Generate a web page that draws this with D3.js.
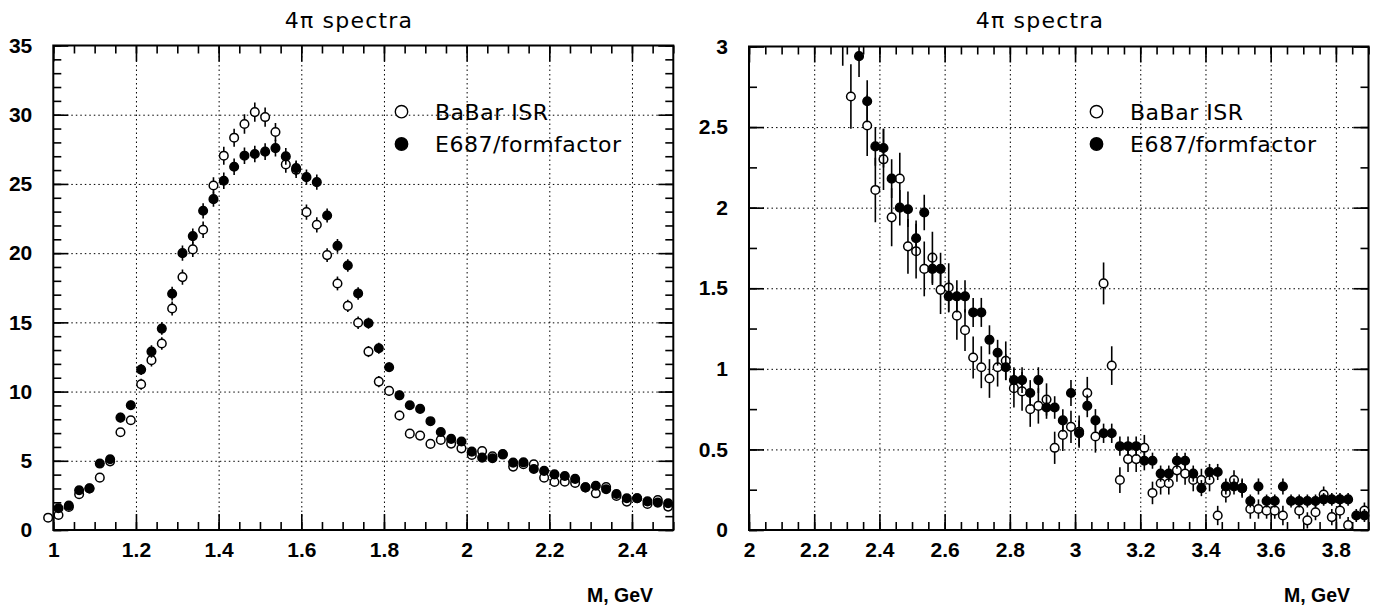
<!DOCTYPE html>
<html>
<head>
<meta charset="utf-8">
<script src="https://cdn.jsdelivr.net/npm/d3@7"></script>
<style>
  body { margin: 0; background: #fff; }
  .tick text { font-family: "Liberation Sans", Arial, sans-serif; font-weight: bold; font-size: 21px; fill: #000; }
  .title, .legend-text { font-family: "DejaVu Sans", sans-serif; fill: #000; }
  .x-label { font-family: "Liberation Sans", Arial, sans-serif; font-weight: bold; font-size: 19.5px; }
</style>
</head>
<body>
<svg id="chart" width="1381" height="608"></svg>
<script>
/* 4pi spectra: BaBar ISR vs E687/formfactor, two panels */

const titleText = "4\u03c0 spectra";
const xLabelText = "M, GeV";
const seriesNames = ["BaBar ISR", "E687/formfactor"];

// left panel (1.0 - 2.5 GeV)
const leftXTicks = [1, 1.2, 1.4, 1.6, 1.8, 2, 2.2, 2.4];
const leftYTicks = [0, 5, 10, 15, 20, 25, 30, 35];

const leftMass = [
  0.9875, 1.0125, 1.0375, 1.0625, 1.0875, 1.1125, 1.1375, 1.1625, 1.1875, 1.2125,
  1.2375, 1.2625, 1.2875, 1.3125, 1.3375, 1.3625, 1.3875, 1.4125, 1.4375, 1.4625,
  1.4875, 1.5125, 1.5375, 1.5625, 1.5875, 1.6125, 1.6375, 1.6625, 1.6875, 1.7125,
  1.7375, 1.7625, 1.7875, 1.8125, 1.8375, 1.8625, 1.8875, 1.9125, 1.9375, 1.9625,
  1.9875, 2.0125, 2.0375, 2.0625, 2.0875, 2.1125, 2.1375, 2.1625, 2.1875, 2.2125,
  2.2375, 2.2625, 2.2875, 2.3125, 2.3375, 2.3625, 2.3875, 2.4125, 2.4375, 2.4625,
  2.4875
];
const leftBabar = [
  0.89, 1.08, 1.66, 2.58, 3.0, 3.78, 4.96, 7.06, 7.93, 10.53,
  12.27, 13.47, 16.0, 18.27, 20.27, 21.69, 24.89, 27.04, 28.34, 29.33,
  30.19, 29.83, 28.75, 26.41, 26.02, 22.96, 22.05, 19.86, 17.81, 16.19,
  14.97, 12.89, 10.72, 10.05, 8.27, 6.96, 6.82, 6.22, 6.51, 6.24,
  5.90, 5.42, 5.71, 5.33, 5.45, 4.58, 4.75, 4.75, 3.78, 3.47,
  3.49, 3.40, 3.08, 2.65, 3.11, 2.46, 2.05, 2.29, 1.88, 2.17,
  1.69
];
const leftBabarErr = [
  0.2, 0.2, 0.2, 0.2, 0.2, 0.3, 0.3, 0.3, 0.3, 0.4,
  0.45, 0.45, 0.5, 0.55, 0.55, 0.6, 0.6, 0.65, 0.65, 0.7,
  0.7, 0.7, 0.65, 0.6, 0.6, 0.55, 0.55, 0.5, 0.5, 0.45,
  0.45, 0.4, 0.4, 0.35, 0.35, 0.3, 0.3, 0.3, 0.3, 0.3,
  0.3, 0.3, 0.3, 0.3, 0.3, 0.3, 0.3, 0.3, 0.2, 0.2,
  0.2, 0.2, 0.2, 0.2, 0.2, 0.2, 0.2, 0.2, 0.2, 0.2,
  0.2
];
const leftE687 = [
  null, 1.57, 1.76, 2.87, 3.01, 4.80, 5.11, 8.12, 9.01, 11.59,
  12.89, 14.55, 17.07, 20.0, 21.23, 23.06, 23.9, 25.23, 26.24, 27.04,
  27.16, 27.33, 27.59, 26.99, 26.14, 25.49, 25.13, 22.72, 20.53, 19.11,
  17.09, 14.94, 13.13, 11.76, 9.73, 9.01, 8.75, 7.86, 7.08, 6.58,
  6.39, 5.66, 5.23, 5.18, 5.49, 4.87, 4.89, 4.41, 4.27, 4.02,
  3.90, 3.69, 3.08, 3.20, 2.94, 2.60, 2.29, 2.29, 2.07, 1.98,
  1.93
];
const leftE687Err = [
  0, 0.2, 0.2, 0.2, 0.2, 0.3, 0.3, 0.35, 0.35, 0.4,
  0.45, 0.45, 0.5, 0.55, 0.55, 0.55, 0.55, 0.6, 0.6, 0.6,
  0.6, 0.6, 0.6, 0.6, 0.55, 0.55, 0.55, 0.5, 0.5, 0.45,
  0.45, 0.4, 0.4, 0.35, 0.35, 0.3, 0.3, 0.3, 0.3, 0.3,
  0.3, 0.3, 0.3, 0.3, 0.3, 0.3, 0.3, 0.3, 0.2, 0.2,
  0.2, 0.2, 0.2, 0.2, 0.2, 0.2, 0.2, 0.2, 0.2, 0.2,
  0.2
];

// right panel (2.0 - 3.9 GeV)
const rightXTicks = [2, 2.2, 2.4, 2.6, 2.8, 3, 3.2, 3.4, 3.6, 3.8];
const rightYTicks = [0, 0.5, 1, 1.5, 2, 2.5, 3];

const rightMass = [
  2.2875, 2.3125, 2.3375, 2.3625, 2.3875, 2.4125, 2.4375, 2.4625, 2.4875, 2.5125,
  2.5375, 2.5625, 2.5875, 2.6125, 2.6375, 2.6625, 2.6875, 2.7125, 2.7375, 2.7625,
  2.7875, 2.8125, 2.8375, 2.8625, 2.8875, 2.9125, 2.9375, 2.9625, 2.9875, 3.0125,
  3.0375, 3.0625, 3.0875, 3.1125, 3.1375, 3.1625, 3.1875, 3.2125, 3.2375, 3.2625,
  3.2875, 3.3125, 3.3375, 3.3625, 3.3875, 3.4125, 3.4375, 3.4625, 3.4875, 3.5125,
  3.5375, 3.5625, 3.5875, 3.6125, 3.6375, 3.6625, 3.6875, 3.7125, 3.7375, 3.7625,
  3.7875, 3.8125, 3.8375, 3.8625, 3.8875
];
const rightBabar = [
  3.15, 2.69, null, 2.51, 2.11, 2.30, 1.94, 2.18, 1.76, 1.73,
  1.62, 1.69, 1.49, 1.505, 1.33, 1.24, 1.07, 1.01, 0.94, 1.01,
  1.05, 0.88, 0.86, 0.75, 0.77, 0.81, 0.51, 0.59, 0.64, 0.61,
  0.85, 0.58, 1.53, 1.02, 0.31, 0.44, 0.44, 0.51, 0.23, 0.29,
  0.29, 0.37, 0.35, 0.31, 0.31, 0.31, 0.09, 0.23, 0.31, 0.26,
  0.13, 0.13, 0.12, 0.12, 0.09, null, 0.12, 0.06, 0.11, 0.22,
  0.08, 0.12, 0.03, null, 0.12
];
const rightBabarErr = [
  0.27, 0.2, 0, 0.19, 0.2, 0.19, 0.18, 0.16, 0.17, 0.17,
  0.17, 0.16, 0.15, 0.15, 0.15, 0.13, 0.13, 0.13, 0.12, 0.12,
  0.12, 0.12, 0.12, 0.11, 0.11, 0.1, 0.1, 0.1, 0.1, 0.1,
  0.1, 0.1, 0.13, 0.12, 0.08, 0.08, 0.08, 0.08, 0.07, 0.07,
  0.07, 0.07, 0.07, 0.07, 0.07, 0.07, 0.06, 0.06, 0.06, 0.06,
  0.06, 0.06, 0.05, 0.05, 0.06, 0, 0.05, 0.05, 0.05, 0.05,
  0.05, 0.05, 0.05, 0, 0.05
];
const rightE687 = [
  null, null, 2.94, 2.66, 2.38, 2.37, 2.18, 2.0, 1.99, 1.81,
  1.97, 1.62, 1.62, 1.45, 1.45, 1.45, 1.35, 1.35, 1.18, 1.10,
  1.01, 0.93, 0.93, 0.85, 0.93, 0.76, 0.76, 0.68, 0.85, 0.60,
  0.77, 0.68, 0.60, 0.60, 0.52, 0.52, 0.52, 0.43, 0.43, 0.35,
  0.35, 0.43, 0.43, 0.35, 0.26, 0.36, 0.36, 0.27, 0.27, 0.26,
  0.18, 0.27, 0.18, 0.18, 0.27, 0.18, 0.18, 0.18, 0.18, 0.19,
  0.19, 0.19, 0.19, 0.09, 0.09
];
const rightE687Err = [
  0, 0, 0.13, 0.13, 0.12, 0.12, 0.12, 0.11, 0.11, 0.11,
  0.11, 0.1, 0.1, 0.1, 0.1, 0.1, 0.09, 0.09, 0.09, 0.08,
  0.08, 0.08, 0.08, 0.08, 0.08, 0.07, 0.07, 0.07, 0.08, 0.08,
  0.07, 0.07, 0.06, 0.06, 0.06, 0.06, 0.06, 0.06, 0.05, 0.05,
  0.05, 0.05, 0.05, 0.05, 0.05, 0.05, 0.05, 0.05, 0.05, 0.05,
  0.04, 0.05, 0.04, 0.04, 0.05, 0.04, 0.04, 0.04, 0.04, 0.04,
  0.04, 0.04, 0.04, 0.04, 0.04
];

const svg = d3.select("#chart");

drawPanel({
  id: "left",
  x0: 53.3, x1: 673.3, y0: 530, y1: 45.5,
  xDomain: [1, 2.5], yDomain: [0, 35],
  xTicks: leftXTicks, yTicks: leftYTicks,
  xMinorStep: 0.05, yMinorStep: 1,
  mass: leftMass,
  series: [
    { values: leftBabar, errs: leftBabarErr, open: true },
    { values: leftE687, errs: leftE687Err, open: false },
  ],
  titleX: 349, legendX: 401.5, xLabelRight: 653,
});

drawPanel({
  id: "right",
  x0: 749, x1: 1368.5, y0: 530, y1: 46.5,
  xDomain: [2, 3.9], yDomain: [0, 3],
  xTicks: rightXTicks, yTicks: rightYTicks,
  xMinorStep: 0.05, yMinorStep: 0.25,
  mass: rightMass,
  series: [
    { values: rightBabar, errs: rightBabarErr, open: true },
    { values: rightE687, errs: rightE687Err, open: false },
  ],
  titleX: 1040, legendX: 1096.5, xLabelRight: 1350,
});

function drawPanel(p) {
  const x = d3.scaleLinear().domain(p.xDomain).range([p.x0, p.x1]);
  const y = d3.scaleLinear().domain(p.yDomain).range([p.y0, p.y1]);
  const w = p.x1 - p.x0, h = p.y0 - p.y1;

  const xMinor = d3.range(p.xDomain[0], p.xDomain[1] + 1e-9, p.xMinorStep);
  const yMinor = d3.range(p.yDomain[0], p.yDomain[1] + 1e-9, p.yMinorStep);

  const g = svg.append("g").attr("class", "panel-" + p.id);

  // dotted grid at major ticks
  const grid = g.append("g").attr("class", "grid");
  grid.append("g")
    .attr("transform", `translate(0,${p.y0})`)
    .call(d3.axisBottom(x).tickValues(p.xTicks.filter(d => d > p.xDomain[0])).tickSize(-h).tickFormat(""));
  grid.append("g")
    .attr("transform", `translate(${p.x0},0)`)
    .call(d3.axisLeft(y).tickValues(p.yTicks.filter(d => d > p.yDomain[0] && d < p.yDomain[1])).tickSize(-w).tickFormat(""));
  grid.selectAll(".domain").remove();
  grid.selectAll("line")
    .attr("stroke", "#000")
    .attr("stroke-width", 1)
    .attr("stroke-dasharray", "1.5,3");

  // ticks on all four sides, pointing inward
  const axes = g.append("g").attr("class", "axes");
  const fmt = d => String(d);

  axes.append("g").attr("transform", `translate(0,${p.y0})`)
    .call(d3.axisBottom(x).tickValues(xMinor).tickSize(-8).tickFormat(""));
  axes.append("g").attr("transform", `translate(0,${p.y0})`)
    .call(d3.axisBottom(x).tickValues(p.xTicks).tickSize(-16).tickPadding(12.5).tickFormat(fmt));
  axes.append("g").attr("transform", `translate(0,${p.y1})`)
    .call(d3.axisTop(x).tickValues(xMinor).tickSize(-8).tickFormat(""));
  axes.append("g").attr("transform", `translate(0,${p.y1})`)
    .call(d3.axisTop(x).tickValues(p.xTicks).tickSize(-16).tickFormat(""));

  axes.append("g").attr("transform", `translate(${p.x0},0)`)
    .call(d3.axisLeft(y).tickValues(yMinor).tickSize(-8).tickFormat(""));
  axes.append("g").attr("transform", `translate(${p.x0},0)`)
    .call(d3.axisLeft(y).tickValues(p.yTicks).tickSize(-15).tickPadding(21).tickFormat(fmt));
  axes.append("g").attr("transform", `translate(${p.x1},0)`)
    .call(d3.axisRight(y).tickValues(yMinor).tickSize(-8).tickFormat(""));
  axes.append("g").attr("transform", `translate(${p.x1},0)`)
    .call(d3.axisRight(y).tickValues(p.yTicks).tickSize(-15).tickFormat(""));

  axes.selectAll(".domain").remove();
  axes.selectAll("line").attr("stroke", "#000").attr("stroke-width", 1.6);

  // frame
  g.append("rect")
    .attr("x", p.x0).attr("y", p.y1)
    .attr("width", w).attr("height", h)
    .attr("fill", "none")
    .attr("stroke", "#000")
    .attr("stroke-width", 2);

  // data, clipped to the frame height
  const clipId = "clip-" + p.id;
  g.append("clipPath").attr("id", clipId)
    .append("rect")
    .attr("x", p.x0 - 12).attr("y", p.y1)
    .attr("width", w + 24).attr("height", h);

  const plot = g.append("g").attr("clip-path", `url(#${clipId})`);

  for (const s of p.series) {
    const pts = p.mass
      .map((m, i) => ({ m: m, v: s.values[i], e: s.errs[i] }))
      .filter(d => d.v !== null);

    const sg = plot.append("g");

    sg.selectAll("line")
      .data(pts.filter(d => d.e > 0))
      .join("line")
      .attr("x1", d => x(d.m)).attr("x2", d => x(d.m))
      .attr("y1", d => y(d.v - d.e)).attr("y2", d => y(d.v + d.e))
      .attr("stroke", "#000")
      .attr("stroke-width", 1.6);

    sg.selectAll("circle")
      .data(pts)
      .join("circle")
      .attr("cx", d => x(d.m))
      .attr("cy", d => y(d.v))
      .attr("r", 4.3)
      .attr("fill", s.open ? "#fff" : "#000")
      .attr("stroke", "#000")
      .attr("stroke-width", 1.5);
  }

  // title
  g.append("text")
    .attr("class", "title")
    .attr("x", p.titleX)
    .attr("y", 28)
    .attr("text-anchor", "middle")
    .attr("font-size", 22)
    .attr("letter-spacing", 1.2)
    .text(titleText);

  // legend
  seriesNames.forEach((name, i) => {
    const ly = 111.7 + i * 32.3;
    g.append("circle")
      .attr("cx", p.legendX).attr("cy", ly)
      .attr("r", 6.2)
      .attr("fill", i === 0 ? "#fff" : "#000")
      .attr("stroke", "#000")
      .attr("stroke-width", 1.4);
    g.append("text")
      .attr("class", "legend-text")
      .attr("x", 435 + (p.legendX - 401.5))
      .attr("y", ly)
      .attr("dy", "0.36em")
      .attr("font-size", 22)
      .attr("letter-spacing", 0.5)
      .text(name);
  });

  // x axis label
  g.append("text")
    .attr("class", "x-label")
    .attr("x", p.xLabelRight)
    .attr("y", 602)
    .attr("text-anchor", "end")
    .text(xLabelText);
}
</script>
</body>
</html>
